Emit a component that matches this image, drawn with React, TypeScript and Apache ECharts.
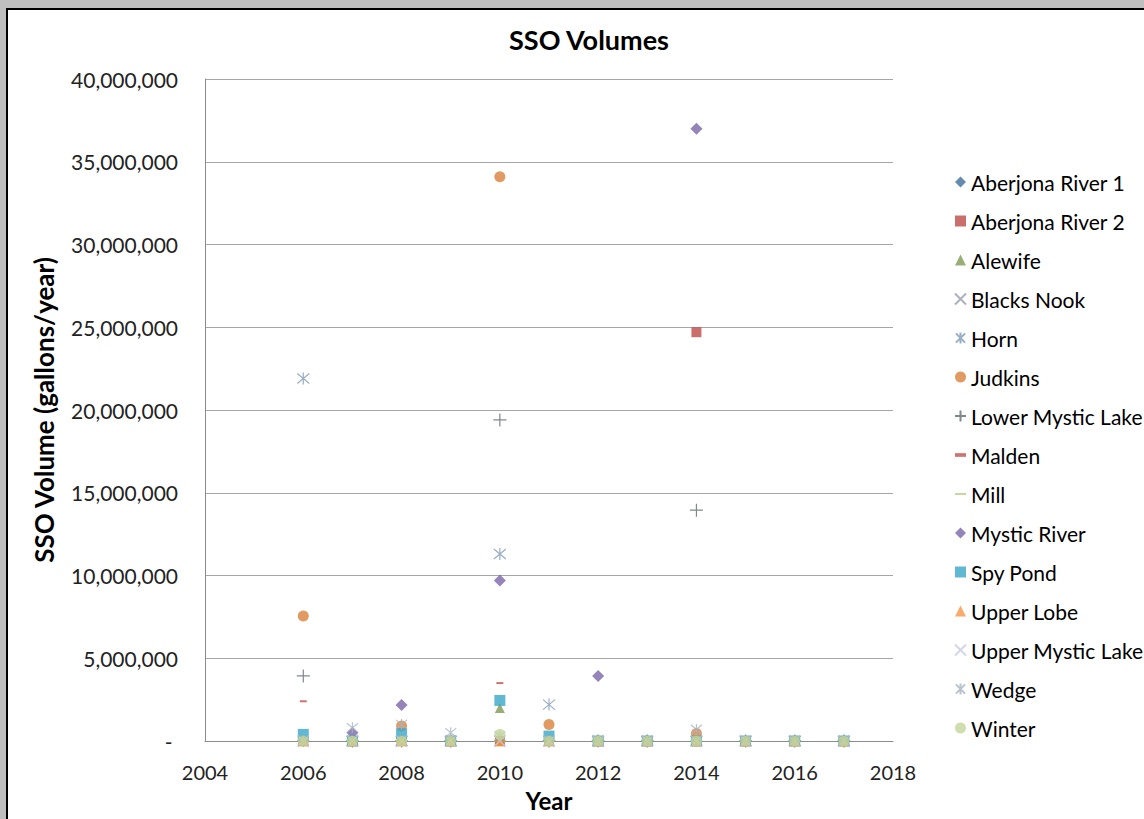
import React, { useEffect, useRef } from "react";
import * as echarts from "echarts";

const years = [2006, 2007, 2008, 2009, 2010, 2011, 2012, 2013, 2014, 2015, 2016, 2017];

const aberjonaRiver1 = [0, 0, 0, 0, 0, 0, 0, 0, 0, 0, 0, 0];
const aberjonaRiver2 = [0, 0, 0, 0, 0, 0, 0, 0, 24700000, 0, 0, 0];
const alewife = [0, 0, 0, 0, 2000000, 0, 0, 0, 0, 0, 0, 0];
const blacksNook = [0, 0, 0, 0, 0, 0, 0, 0, 0, 0, 0, 0];
const horn = [21900000, 0, 0, 0, 11300000, 2200000, 0, 0, 0, 0, 0, 0];
const judkins = [7550000, 0, 900000, 0, 34100000, 1000000, 0, 0, 450000, 0, 0, 0];
const lowerMysticLake = [3930000, 0, 0, 0, 19400000, 0, 0, 0, 13950000, 0, 0, 0];
const malden = [2400000, 0, 0, 0, 3500000, 0, 0, 0, 0, 0, 0, 0];
const mill = [0, 0, 0, 0, 0, 0, 0, 0, 0, 0, 0, 0];
const mysticRiver = [0, 500000, 2180000, 0, 9700000, 0, 3930000, 0, 37000000, 0, 0, 0];
const spyPond = [400000, 0, 450000, 0, 2450000, 300000, 0, 0, 0, 0, 0, 0];
const upperLobe = [0, 0, 0, 0, 0, 0, 0, 0, 0, 0, 0, 0];
const upperMysticLake = [0, 0, 0, 0, 0, 0, 0, 0, 0, 0, 0, 0];
const wedge = [0, 800000, 1000000, 500000, 300000, 0, 0, 0, 700000, 0, 0, 0];
const winter = [0, 0, 0, 0, 400000, 0, 0, 0, 0, 0, 0, 0];

const X_PATH = "path://M0,0L10,10M10,0L0,10";
const AST_PATH = "path://M0,0L10,10M10,0L0,10M5,-1L5,11";
const PLUS_PATH = "path://M5,0L5,10M0,5L10,5";
const SHORT_DASH = "path://M0,0L6,0L6,2L0,2Z";
const LONG_DASH = "path://M0,0L12,0L12,1.6L0,1.6Z";

type Def = { name: string; data: number[]; symbol: string; size: any; color: string; stroke?: boolean; icon?: string };

const defs: Def[] = [
  { name: "Aberjona River 1", data: aberjonaRiver1, symbol: "diamond", size: 10, color: "#3F6E9A" },
  { name: "Aberjona River 2", data: aberjonaRiver2, symbol: "rect", size: 10, color: "#BE4B48" },
  { name: "Alewife", data: alewife, symbol: "triangle", size: 10, color: "#7F9A55" },
  { name: "Blacks Nook", data: blacksNook, symbol: X_PATH, size: 11, color: "#9A9AB2", stroke: true },
  { name: "Horn", data: horn, symbol: AST_PATH, size: 12, color: "#7F9AB5", stroke: true },
  { name: "Judkins", data: judkins, symbol: "circle", size: 11, color: "#D9823B" },
  { name: "Lower Mystic Lake", data: lowerMysticLake, symbol: PLUS_PATH, size: 13, color: "#5F6B6B", stroke: true },
  { name: "Malden", data: malden, symbol: "rect", size: [7, 2], color: "#C0504D", icon: SHORT_DASH },
  { name: "Mill", data: mill, symbol: "rect", size: [12, 2], color: "#9BBB59", icon: LONG_DASH },
  { name: "Mystic River", data: mysticRiver, symbol: "diamond", size: 12, color: "#7A65A8" },
  { name: "Spy Pond", data: spyPond, symbol: "rect", size: 11, color: "#3AA6C8" },
  { name: "Upper Lobe", data: upperLobe, symbol: "triangle", size: 11, color: "#F79646" },
  { name: "Upper Mystic Lake", data: upperMysticLake, symbol: X_PATH, size: 11, color: "#C8CCE0", stroke: true },
  { name: "Wedge", data: wedge, symbol: AST_PATH, size: 11, color: "#A8B4C4", stroke: true },
  { name: "Winter", data: winter, symbol: "circle", size: 11, color: "#C3D69B" },
];

const FONT = "Lato";

export default function App() {
  const ref = useRef<HTMLDivElement>(null);
  useEffect(() => {
    const chart = echarts.init(ref.current!, undefined, { renderer: "svg" });
    const series = defs.map((d) => ({
      name: d.name,
      type: "scatter",
      data: years.map((y, i) => [y, d.data[i]]),
      symbol: d.symbol,
      symbolSize: d.size,
      itemStyle: d.stroke
        ? { color: "rgba(0,0,0,0)", borderColor: d.color, borderWidth: 1.2 }
        : { color: d.color },
      emphasis: { disabled: true },
    }));
    chart.setOption({
      animation: false,
      backgroundColor: "#BFBFBF",
      textStyle: { fontFamily: FONT },
      graphic: [
        {
          type: "rect",
          z: -10,
          silent: true,
          shape: { x: 7, y: 9, width: 1200, height: 900 },
          style: { fill: "#FFFFFF", stroke: "#000000", lineWidth: 2 },
        },
      ],
      title: {
        text: "SSO Volumes",
        left: 584,
        top: 21,
        textAlign: "center",
        textStyle: { fontFamily: FONT, fontSize: 27, fontWeight: "bold", color: "#000" },
      },
      grid: { left: 205, right: 251, top: 79, bottom: 78, outerBoundsMode: "none", containLabel: false },
      legend: {
        orient: "vertical",
        left: 949,
        top: 166,
        itemWidth: 11,
        itemHeight: 11,
        itemGap: 17,
        textStyle: { fontFamily: FONT, fontSize: 21, color: "#000", lineHeight: 22 },
        data: defs.map((d) => (d.icon ? { name: d.name, icon: d.icon } : d.name)),
      },
      xAxis: {
        type: "value",
        min: 2004,
        max: 2018,
        interval: 2,
        name: "Year",
        nameLocation: "middle",
        nameGap: 47,
        nameTextStyle: { fontFamily: FONT, fontSize: 24, fontWeight: "bold", color: "#000" },
        axisLine: { show: true, lineStyle: { color: "#8C8C8C", width: 1 } },
        axisTick: { show: false },
        splitLine: { show: false },
        axisLabel: {
          fontFamily: FONT,
          fontSize: 20,
          color: "#222",
          margin: 21,
          formatter: (v: number) => String(v),
        },
      },
      yAxis: {
        type: "value",
        min: 0,
        max: 40000000,
        interval: 5000000,
        name: "SSO Volume (gallons/year)",
        nameLocation: "middle",
        nameGap: 148,
        nameRotate: 90,
        nameTextStyle: { fontFamily: FONT, fontSize: 26, fontWeight: "bold", color: "#000" },
        axisLine: { show: true, lineStyle: { color: "#8C8C8C", width: 1 } },
        axisTick: { show: false },
        splitLine: { show: true, lineStyle: { color: "#A6A6A6", width: 1 } },
        axisLabel: {
          fontFamily: FONT,
          fontSize: 21,
          color: "#222",
          margin: 27,
          formatter: (v: number) => (v === 0 ? "- " : v.toLocaleString("en-US")),
        },
      },
      series,
    });
    return () => chart.dispose();
  }, []);
  return (
    <div
      ref={ref}
      style={{ position: "fixed", left: 0, top: 0, width: 1144, height: 819 }}
    />
  );
}
